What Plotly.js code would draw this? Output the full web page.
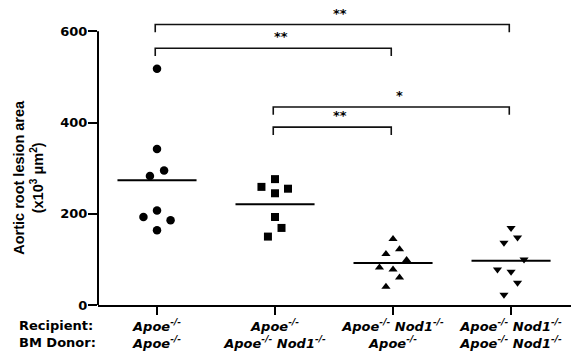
<!DOCTYPE html>
<html>
<head>
<meta charset="utf-8">
<script src="https://cdn.plot.ly/plotly-3.0.1.min.js"></script>
<style>html,body{margin:0;padding:0;background:#fff;}</style>
</head>
<body>
<div id="chart" style="width:571px;height:352px;"></div>
<script>
// ---- data ----
const groupLabels = [
  "<i>Apoe<sup>-/-</sup></i><br><i>Apoe<sup>-/-</sup></i>",
  "<i>Apoe<sup>-/-</sup></i><br><i>Apoe<sup>-/-</sup> Nod1<sup>-/-</sup></i>",
  "<i>Apoe<sup>-/-</sup> Nod1<sup>-/-</sup></i><br><i>Apoe<sup>-/-</sup></i>",
  "<i>Apoe<sup>-/-</sup> Nod1<sup>-/-</sup></i><br><i>Apoe<sup>-/-</sup> Nod1<sup>-/-</sup></i>"
];
const valsApoeApoe   = [518, 342, 295, 283, 207, 193, 186, 164];
const valsApoeNod1   = [276, 259, 255, 245, 193, 169, 150];
const valsNod1Apoe   = [144.5, 122, 112, 98.5, 82.5, 78, 60.5, 40];
const valsNod1Nod1   = [168.6, 148, 136.6, 100, 78, 73, 49, 22.5];
// horizontal scatter offsets (in category units) as seen in the picture
const jitApoeApoe = [0, 0, 0.06, -0.06, 0, -0.115, 0.115, 0];
const jitApoeNod1 = [0, -0.115, 0.11, 0, 0, 0.055, -0.06];
const jitNod1Apoe = [0, 0.055, -0.06, 0.115, -0.115, 0, 0.055, -0.06];
const jitNod1Nod1 = [0, 0.055, -0.06, 0.11, -0.115, 0, 0.055, -0.06];
const yTicks = [0, 200, 400, 600];
const yTitle = "Aortic root lesion area<br>(x10<sup>3</sup> μm<sup>2</sup>)";
// significance comparisons
const compPairs  = [[0, 3], [0, 2], [1, 3], [1, 2]];
const compLabels = ["**", "**", "*", "**"];
const compLevels = [615, 563, 434, 390];

// ---- drawing ----
const FONT = "DejaVu Sans";
const groups = [
  {v: valsApoeApoe, j: jitApoeApoe, sym: "circle", size: 8.5},
  {v: valsApoeNod1, j: jitApoeNod1, sym: "square", size: 8},
  {v: valsNod1Apoe, j: jitNod1Apoe, sym: "triangle-up", size: 8},
  {v: valsNod1Nod1, j: jitNod1Nod1, sym: "triangle-down", size: 8}
];
const traces = [];
groups.forEach((g, i) => {
  traces.push({
    type: "scatter", mode: "markers",
    x: g.v.map((_, k) => i + g.j[k]), y: g.v,
    marker: {symbol: g.sym, size: g.size, color: "#000"},
    hoverinfo: "skip", showlegend: false
  });
  const mean = g.v.reduce((a, b) => a + b, 0) / g.v.length;
  traces.push({
    type: "scatter", mode: "lines",
    x: [i - 0.335, i + 0.335], y: [mean, mean],
    line: {color: "#000", width: 2},
    hoverinfo: "skip", showlegend: false
  });
});

const yMax = 660;
const shapes = [
  {type: "line", xref: "paper", yref: "paper", x0: 0, x1: 0, y0: 0, y1: 600 / yMax,
   line: {color: "#000", width: 2}}
];
const annotations = [];
compPairs.forEach((p, i) => {
  const h = compLevels[i], drop = 17;
  shapes.push({type: "path", xref: "x", yref: "y",
    path: `M ${p[0] - 0.015} ${h - drop} L ${p[0] - 0.015} ${h} L ${p[1] - 0.015} ${h} L ${p[1] - 0.015} ${h - drop}`,
    line: {color: "#111", width: 1.6}});
  annotations.push({xref: "x", yref: "y", x: (p[0] + p[1]) / 2, y: h, yshift: 2,
    text: compLabels[i], showarrow: false, yanchor: "bottom", xshift: 6,
    font: {family: FONT, size: 13, color: "#000", weight: "bold"}});
});
annotations.push({xref: "paper", yref: "paper", x: -81 / 473, y: 0, xanchor: "left", yanchor: "top",
  yshift: -11, align: "left", showarrow: false,
  text: "Recipient:<br>BM Donor:",
  font: {family: FONT, size: 13, color: "#000", weight: "bold"}});
annotations.push({xref: "paper", yref: "y", x: -69.5 / 473, y: 302, yshift: -10, xanchor: "center", yanchor: "middle",
  textangle: -90, showarrow: false, text: yTitle,
  font: {family: "Liberation Sans", size: 14.5, color: "#000", weight: "bold"}});

const layout = {
  width: 571, height: 352,
  margin: {l: 98, r: 0, t: 4, b: 47, pad: 0},
  paper_bgcolor: "#fff", plot_bgcolor: "#fff",
  font: {family: FONT, color: "#000"},
  xaxis: {
    range: [-0.5, 3.508], tickvals: [0, 1, 2, 3], ticktext: groupLabels,
    ticks: "outside", ticklen: 8, tickwidth: 2, tickcolor: "#000",
    showline: true, linewidth: 2, linecolor: "#000",
    showgrid: false, zeroline: false,
    tickfont: {family: FONT, size: 13, color: "#000", weight: "bold"}
  },
  yaxis: {
    range: [0, yMax], tickvals: yTicks, ticktext: yTicks.map(String),
    ticks: "outside", ticklen: 9, tickwidth: 2, tickcolor: "#000",
    ticklabelstandoff: -2,
    showline: false, showgrid: false, zeroline: false,
    tickfont: {family: FONT, size: 13, color: "#000", weight: "bold"}
  },
  shapes: shapes,
  annotations: annotations
};
Plotly.newPlot("chart", traces, layout, {staticPlot: true, displayModeBar: false});
</script>
</body>
</html>
